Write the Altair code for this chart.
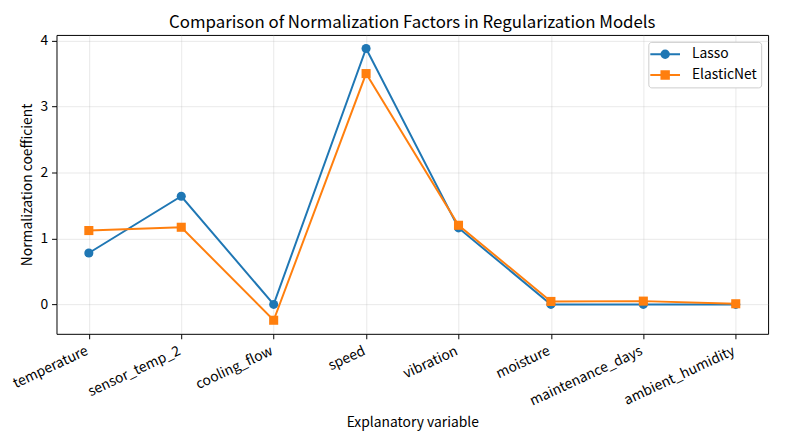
import altair as alt
import pandas as pd

features = ["temperature", "sensor_temp_2", "cooling_flow", "speed",
            "vibration", "moisture", "maintenance_days", "ambient_humidity"]
lasso = [0.78, 1.64, 0.0, 3.88, 1.16, 0.0, 0.0, 0.0]
enet = [1.12, 1.17, -0.24, 3.50, 1.20, 0.045, 0.05, 0.01]
models = ["Lasso", "ElasticNet"]
colors = ["#1f77b4", "#ff7f0e"]
marker_shapes = ["circle", "square"]

# legend symbols: a line segment with the marker in its middle
legend_paths = [
    "M-1,0L3,0M1.5,0A0.5,0.5,0,1,1,0.5,0A0.5,0.5,0,1,1,1.5,0Z",
    "M-1,0L3,0M0.5,-0.5L1.5,-0.5L1.5,0.5L0.5,0.5Z",
]

rows = []
for m, vals in zip(models, [lasso, enet]):
    for f, v in zip(features, vals):
        rows.append({"feature": f, "value": v, "model": m})
df = pd.DataFrame(rows)

FONT = "Noto Sans CJK JP"

x_enc = alt.X("feature:N", sort=features,
              scale=alt.Scale(domain=features, padding=0.35),
              axis=alt.Axis(title="Explanatory variable", labelAngle=335,
                            labelAlign="right", labelBaseline="top",
                            labelPadding=5, labelOffset=-5, grid=True,
                            titleY=94, titleBaseline="alphabetic"))
y_enc = alt.Y("value:Q",
              scale=alt.Scale(domain=[-0.446, 4.086], nice=False, zero=False),
              axis=alt.Axis(title="Normalization coefficient", values=[0, 1, 2, 3, 4],
                            titleX=-25, titleY=151, titleAngle=270,
                            titleBaseline="alphabetic", titleAlign="center"))

stroke_scale = alt.Scale(domain=models, range=colors)

leg = alt.Legend(title=None, orient="top-right", offset=7, padding=4,
                 rowPadding=4, columnPadding=4, symbolSize=225, symbolStrokeWidth=2,
                 symbolOffset=-3, labelOffset=26, labelFontSize=14, labelFont=FONT,
                 labelColor="black", fillColor="white", strokeColor="#cccccc",
                 cornerRadius=3)

# empty layer that only provides the legend (line + marker symbols)
legend_layer = alt.Chart(df).transform_filter("false").mark_point(
    filled=True, opacity=1, strokeWidth=2).encode(
    x=x_enc, y=y_enc,
    shape=alt.Shape("model:N", scale=alt.Scale(domain=models, range=legend_paths), legend=leg),
    fill=alt.Fill("model:N", scale=stroke_scale, legend=leg),
    stroke=alt.Stroke("model:N", scale=stroke_scale, legend=leg),
)
layers = [legend_layer]

for m, shp in zip(models, marker_shapes):
    base = alt.Chart(df).transform_filter(alt.datum.model == m)
    line = base.mark_line(strokeWidth=2).encode(
        x=x_enc, y=y_enc,
        stroke=alt.Stroke("model:N", scale=stroke_scale, legend=leg))
    pts = base.mark_point(shape=shp, filled=True, size=84, opacity=1).encode(
        x=x_enc, y=y_enc,
        fill=alt.Fill("model:N", scale=stroke_scale, legend=leg))
    layers += [line, pts]

chart = alt.layer(*layers).properties(
    width=719, height=302,
    title=alt.TitleParams("Comparison of Normalization Factors in Regularization Models",
                          font=FONT, fontSize=17, fontWeight="normal",
                          anchor="middle", frame="group", baseline="bottom",
                          offset=-15, color="black"),
    autosize=alt.AutoSizeParams(type="none"),
    padding={"left": 49, "top": 25, "right": 9, "bottom": 100},
).configure_view(stroke="black", strokeWidth=1).configure_axis(
    labelFont=FONT, titleFont=FONT, labelFontSize=14, titleFontSize=14,
    titleFontWeight="normal", labelColor="black", titleColor="black",
    tickColor="black", tickSize=5, domain=False,
    gridColor="#b0b0b0", gridOpacity=0.35, gridWidth=0.8,
).configure_axisY(labelPadding=4)

chart.save("out.html", embed_options={"renderer": "svg", "actions": False})
